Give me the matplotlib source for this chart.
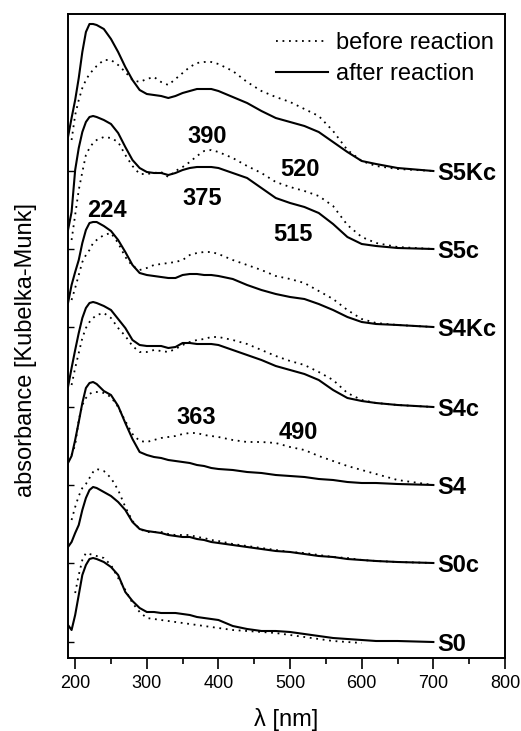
import numpy as np
import matplotlib
matplotlib.use("Agg")
import matplotlib.pyplot as plt
from matplotlib.ticker import MultipleLocator

plt.rcParams['font.family'] = ['Liberation Sans', 'DejaVu Sans']

# wavelength grid (nm), values in arbitrary, stacked units
wl = np.array([190, 195, 200, 205, 210, 215, 220, 225, 230, 240, 250, 260, 270, 280,
               290, 300, 310, 320, 330, 340, 350, 360, 370, 380, 390, 400, 420, 440,
               460, 480, 500, 520, 540, 560, 580, 600, 620, 650, 700])
nan = np.nan

# after reaction (solid)
s5kc_after = [521, 540, 558, 580, 606, 626, 634, 634, 633, 629, 619, 606, 591, 578,
              568, 564, 563, 562, 560, 562, 565, 567, 569, 569, 569, 567, 561, 555,
              547, 540, 536, 532, 526, 516, 506, 497, 494, 490, 487]
s5c_after = [428, 446, 488, 510, 526, 536, 541, 542, 541, 538, 534, 525, 511, 498,
             490, 486, 485, 485, 483, 485, 488, 490, 491, 491, 491, 490, 485, 480,
             470, 460, 455, 451, 445, 434, 421, 414, 412, 410, 409]
s4kc_after = [355, 373, 386, 398, 415, 428, 435, 436, 436, 432, 427, 418, 406, 393,
              385, 383, 382, 381, 380, 380, 383, 384, 384, 383, 383, 382, 379, 373,
              368, 364, 361, 359, 354, 348, 341, 336, 334, 333, 331]
s4c_after = [271, 290, 308, 325, 340, 350, 355, 356, 355, 352, 348, 339, 330, 318,
             313, 312, 312, 312, 310, 311, 315, 315, 314, 314, 314, 313, 308, 303,
             298, 292, 288, 284, 278, 268, 260, 257, 255, 253, 251]
s4_after = [195, 202, 218, 236, 255, 270, 275, 276, 274, 267, 263, 252, 235, 219,
            206, 203, 201, 200, 198, 197, 196, 195, 193, 192, 190, 189, 188, 186,
            185, 183, 182, 181, 179, 178, 176, 175, 175, 174, 173]
s0c_after = [111, 116, 125, 133, 148, 160, 168, 171, 170, 166, 162, 156, 148, 136,
             129, 127, 126, 125, 123, 122, 121, 121, 119, 118, 116, 115, 113, 111,
             109, 107, 106, 104, 102, 101, 99, 98, 97, 96, 95]
s0_after = [33, 28, 43, 63, 83, 93, 99, 100, 99, 96, 91, 83, 66, 57,
            50, 46, 46, 45, 45, 45, 44, 43, 41, 40, 39, 38, 32, 29,
            27, 27, 26, 24, 22, 20, 19, 18, 17, 17, 16]

# before reaction (dotted)
s5kc_before = [nan, 518, 543, 558, 570, 578, 584, 588, 592, 598, 598, 593, 586, 578,
               576, 579, 581, 576, 573, 579, 585, 591, 595, 596, 596, 594, 587, 576,
               567, 561, 556, 549, 542, 527, 508, 497, 492, 489, 487]
s5c_before = [nan, 418, 443, 468, 486, 503, 510, 515, 518, 521, 520, 516, 503, 492,
              484, 484, 485, 486, 481, 487, 491, 496, 502, 507, 508, 506, 500, 492,
              485, 476, 471, 467, 462, 452, 433, 421, 415, 411, 409]
s4kc_before = [nan, 358, 370, 383, 396, 403, 408, 415, 418, 423, 425, 415, 401, 392,
               388, 390, 393, 394, 395, 396, 398, 403, 405, 406, 406, 404, 398, 393,
               388, 382, 379, 375, 367, 359, 348, 339, 335, 333, 331]
s4c_before = [nan, 273, 290, 305, 320, 330, 336, 340, 343, 345, 340, 330, 322, 312,
              306, 306, 308, 307, 306, 309, 313, 316, 318, 319, 321, 321, 318, 314,
              308, 302, 297, 293, 286, 278, 265, 258, 255, 253, 251]
s4_before = [nan, 203, 213, 238, 253, 260, 264, 266, 266, 265, 261, 251, 237, 224,
             217, 216, 218, 220, 221, 222, 224, 225, 225, 223, 222, 221, 218, 216,
             216, 215, 211, 208, 202, 197, 192, 188, 184, 178, 173]
s0c_before = [nan, 138, 151, 162, 170, 174, 180, 186, 189, 187, 180, 168, 151, 137,
              129, 126, 126, 126, 124, 123, 123, 123, 121, 120, 118, 117, 114, 112,
              110, 108, 106, 105, 103, 101, 100, 98, 97, 96, 95]
s0_before = [nan, nan, 65, 83, 98, 105, 104, 103, 102, 100, 93, 80, 68, 55,
             46, 40, 39, 38, 37, 36, 35, 34, 33, 32, 31, 30, 28, 27,
             26, 25, 23, 21, 19, 17, 16, 15, nan, nan, nan]

samples = ['S5Kc', 'S5c', 'S4Kc', 'S4c', 'S4', 'S0c', 'S0']
after = [s5kc_after, s5c_after, s4kc_after, s4c_after, s4_after, s0c_after, s0_after]
before = [s5kc_before, s5c_before, s4kc_before, s4c_before, s4_before, s0c_before, s0_before]

# band maxima marked in the figure: (label, wavelength, height)
peak_labels = ['390', '520', '375', '224', '515', '363', '490']
peak_wl = [384, 514, 377, 244, 504, 369, 511]
peak_y = [524, 491, 462, 450, 426, 243, 228]

fig = plt.figure(figsize=(5.21, 7.31), dpi=100)
ax = fig.add_axes([68 / 521, 73 / 731, 437 / 521, 644 / 731])

for i, name in enumerate(samples):
    ax.plot(wl, before[i], color='black', lw=1.3, linestyle=(0, (1, 2.6)),
            label='before reaction' if i == 0 else None)
    ax.plot(wl, after[i], color='black', lw=1.5,
            label='after reaction' if i == 0 else None)
    ax.text(wl[-1] + 6, after[i][-1], name, fontsize=17, fontweight='bold',
            ha='left', va='center_baseline')

for lab, x, y in zip(peak_labels, peak_wl, peak_y):
    ax.text(x, y, lab, fontsize=17, fontweight='bold', ha='center', va='center_baseline')

ax.set_xlim(190, 800)
ax.set_ylim(0, 644)
ax.xaxis.set_major_locator(MultipleLocator(100))
ax.xaxis.set_minor_locator(MultipleLocator(50))
ax.tick_params(axis='x', which='major', direction='out', length=8, width=1.2,
               labelsize=13, pad=4)
ax.tick_params(axis='x', which='minor', direction='out', length=4, width=1.2)
ax.set_yticks([a[-1] for a in after])
ax.tick_params(axis='y', direction='in', length=4, width=1.0, labelleft=False)
for sp in ax.spines.values():
    sp.set_linewidth(1.4)

ax.set_xlabel('λ [nm]', fontsize=17)
ax.xaxis.set_label_coords(0.5, -0.078)
ax.set_ylabel('absorbance [Kubelka-Munk]', fontsize=17)
ax.yaxis.set_label_coords(-0.072, 0.478)

ax.legend(loc='upper right', bbox_to_anchor=(0.975, 0.972), frameon=False, fontsize=17,
          handlelength=2.2, handletextpad=0.35, labelspacing=0.38,
          borderpad=0, borderaxespad=0)

fig.savefig('out.png', dpi=100)
